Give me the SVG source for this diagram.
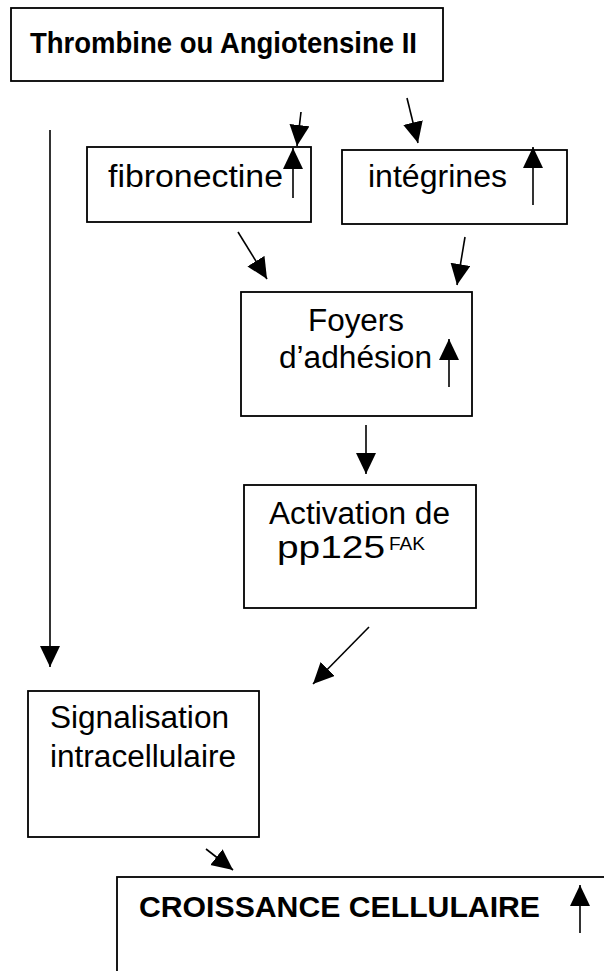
<svg xmlns="http://www.w3.org/2000/svg" width="604" height="971" viewBox="0 0 604 971">
<style>
.box{fill:none;stroke:#000;stroke-width:1.8}
.t{font-family:"Liberation Sans",Arial,sans-serif;font-size:31px;fill:#000}
.b{font-weight:bold;font-size:29px}
.sup{font-size:18px}
.c{fill:none;stroke:#000;stroke-width:1.6}
</style>
<defs>
<marker id="ah" markerUnits="userSpaceOnUse" markerWidth="22" markerHeight="22" refX="21" refY="10" orient="auto">
<path d="M0,0 L21,10 L0,20 Z" fill="#000"/>
</marker>
</defs>
<g id="thrombine">
<rect class="box" x="11" y="8" width="432" height="73"/>
<text class="t b" x="30" y="53" textLength="387" lengthAdjust="spacingAndGlyphs">Thrombine ou Angiotensine II</text>
</g>
<g id="fibronectine">
<rect class="box" x="87" y="147" width="224" height="75"/>
<text class="t" x="108" y="187" textLength="175" lengthAdjust="spacingAndGlyphs">fibronectine</text>
<path class="c" d="M293,198 L293,148" marker-end="url(#ah)"/>
</g>
<g id="integrines">
<rect class="box" x="342" y="150" width="225" height="74"/>
<text class="t" x="368" y="187" textLength="139" lengthAdjust="spacingAndGlyphs">intégrines</text>
<path class="c" d="M533,205 L533,147" marker-end="url(#ah)"/>
</g>
<g id="foyers">
<rect class="box" x="241" y="292" width="231" height="124"/>
<text class="t" x="308" y="331" textLength="96" lengthAdjust="spacingAndGlyphs">Foyers</text>
<text class="t" x="279" y="368" textLength="153" lengthAdjust="spacingAndGlyphs">d’adhésion</text>
<path class="c" d="M449,387 L449,339" marker-end="url(#ah)"/>
</g>
<g id="activation">
<rect class="box" x="244" y="485" width="232" height="123"/>
<text class="t" x="269" y="524" textLength="181" lengthAdjust="spacingAndGlyphs">Activation de</text>
<text class="t" x="277" y="558" textLength="108" lengthAdjust="spacingAndGlyphs">pp125</text>
<text class="t sup" x="389" y="550" textLength="36" lengthAdjust="spacingAndGlyphs">FAK</text>
</g>
<g id="signalisation">
<rect class="box" x="28" y="691" width="231" height="146"/>
<text class="t" x="50" y="728" textLength="179" lengthAdjust="spacingAndGlyphs">Signalisation</text>
<text class="t" x="50" y="767" textLength="186" lengthAdjust="spacingAndGlyphs">intracellulaire</text>
</g>
<g id="croissance">
<rect class="box" x="117" y="877" width="520" height="140"/>
<text class="t b" x="139" y="917" textLength="401" lengthAdjust="spacingAndGlyphs">CROISSANCE CELLULAIRE</text>
<path class="c" d="M580,933 L580,885" marker-end="url(#ah)"/>
</g>
<g id="connectors">
<path class="c" d="M50,130 L50,667" marker-end="url(#ah)"/>
<path class="c" d="M301,112 L297,146" marker-end="url(#ah)"/>
<path class="c" d="M407,98 L418,143" marker-end="url(#ah)"/>
<path class="c" d="M238,232 L267,279" marker-end="url(#ah)"/>
<path class="c" d="M465,237 L457,285" marker-end="url(#ah)"/>
<path class="c" d="M366,425 L366,474" marker-end="url(#ah)"/>
<path class="c" d="M369,627 L313,684" marker-end="url(#ah)"/>
<path class="c" d="M206,849 L233,870" marker-end="url(#ah)"/>
</g>
</svg>
